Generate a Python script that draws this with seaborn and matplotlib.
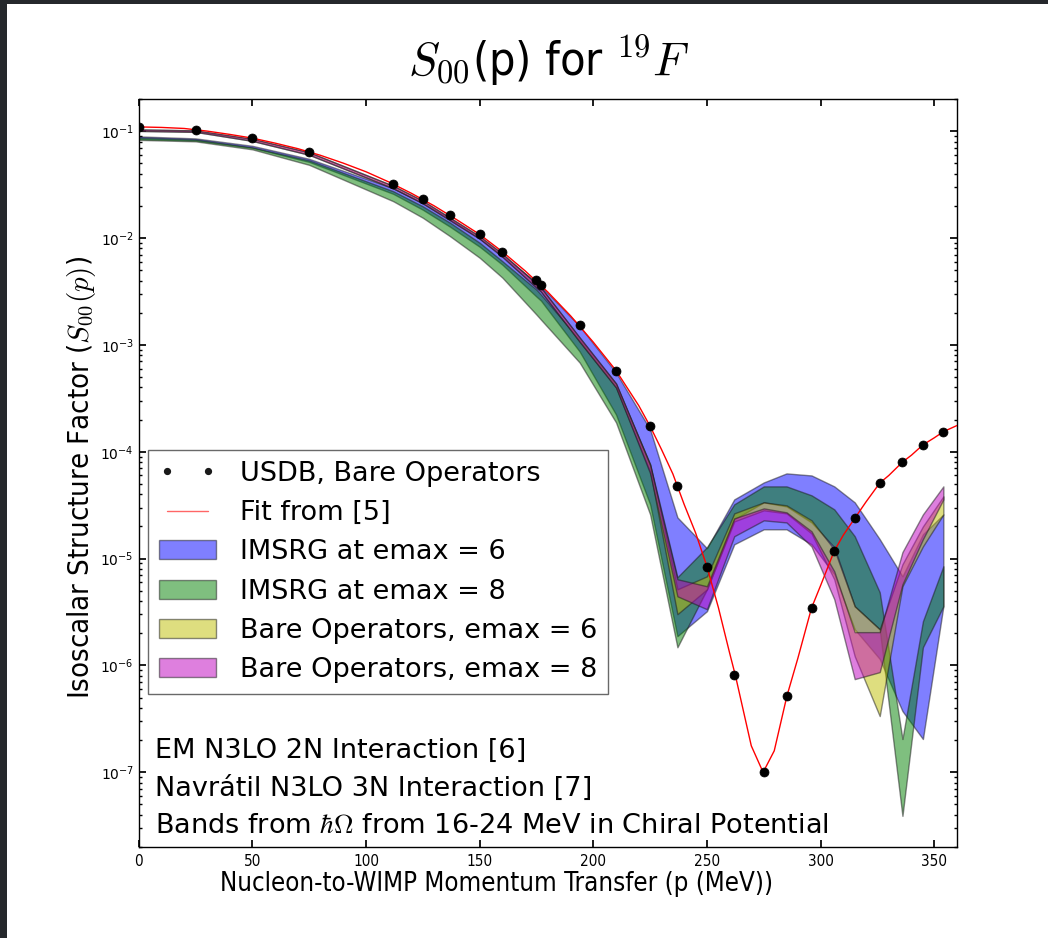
import numpy as np
import pandas as pd
import matplotlib
matplotlib.use("Agg")
import matplotlib.pyplot as plt
import seaborn as sns
from matplotlib.patches import Rectangle, Patch
from matplotlib.lines import Line2D

# ---------------- data ----------------
p_mev = [0, 25, 50, 75, 112, 125, 137, 150, 160, 175, 177, 194, 210, 225,
         237, 250, 262, 275, 285, 296, 306, 315, 326, 336, 345, 354]

s00_usdb = [1.10e-1, 1.035e-1, 8.61e-2, 6.40e-2, 3.20e-2, 2.31e-2, 1.625e-2,
            1.08e-2, 7.45e-3, 4.02e-3, 3.64e-3, 1.53e-3, 5.75e-4, 1.73e-4,
            4.81e-5, 8.41e-6, 8.07e-7, 1.01e-7, 5.20e-7, 3.45e-6, 1.18e-5,
            2.38e-5, 5.09e-5, 8.0e-5, 1.16e-4, 1.54e-4]

p_fit = [0, 10, 20, 30, 40, 50, 60, 70, 80, 90, 100, 110, 120, 130, 140, 150,
         160, 170, 180, 190, 200, 210, 220, 225, 230, 235, 240, 245, 250, 255,
         260, 262.5, 269.5, 274.7, 279.6, 285.2, 290, 296, 300, 306, 310, 315,
         320, 326, 330, 336, 340, 345, 350, 354, 360]
s00_fit = [0.1096, 0.1084, 0.106, 0.1002, 0.0933, 0.0861, 0.0773, 0.0686,
           0.0594, 0.0502, 0.0417, 0.0335, 0.0262, 0.0200, 0.0148, 0.0108,
           0.00745, 0.00493, 0.00312, 0.00187, 0.00106, 5.75e-4, 2.7e-4,
           1.73e-4, 1.05e-4, 6.2e-5, 3.2e-5, 1.74e-5, 8.41e-6, 3.5e-6, 1.3e-6,
           8.07e-7, 1.77e-7, 1.0e-7, 1.59e-7, 5.2e-7, 1.17e-6, 3.45e-6, 5.6e-6,
           1.18e-5, 1.66e-5, 2.38e-5, 3.4e-5, 5.09e-5, 6.0e-5, 8.0e-5, 9.3e-5,
           1.16e-4, 1.35e-4, 1.54e-4, 1.76e-4]

imsrg6_hi = [0.0894, 0.0856, 0.0729, 0.0551, 0.0292, 0.0214, 0.01515, 0.00996,
             0.00691, 0.00382, 0.00354, 0.00150, 5.51e-4, 1.62e-4, 2.43e-5,
             1.25e-5, 3.58e-5, 5.16e-5, 6.27e-5, 6.00e-5, 4.74e-5, 3.36e-5,
             1.52e-5, 6.83e-6, 1.69e-5, 2.59e-5]
imsrg6_lo = [0.0847, 0.0820, 0.0698, 0.0516, 0.0259, 0.0184, 0.01275, 0.00829,
             0.00563, 0.00283, 0.00259, 8.66e-4, 2.23e-4, 3.22e-5, 1.88e-6,
             3.22e-6, 1.36e-5, 1.88e-5, 1.88e-5, 1.36e-5, 7.13e-6, 2.18e-6,
             1.15e-6, 3.74e-7, 2.05e-7, 3.58e-6]

imsrg8_hi = [0.0875, 0.0838, 0.0706, 0.0534, 0.0274, 0.0198, 0.0139, 0.00904,
             0.00607, 0.00329, 0.00295, 0.00112, 4.26e-4, 7.61e-5, 6.69e-6,
             1.28e-5, 3.22e-5, 4.74e-5, 4.74e-5, 3.91e-5, 2.89e-5, 1.62e-5,
             4.84e-6, 2.05e-7, 2.59e-6, 8.47e-6]
imsrg8_lo = [0.0829, 0.0803, 0.0676, 0.0484, 0.0221, 0.01548, 0.01039, 0.00654,
             0.00426, 0.00192, 0.00172, 6.83e-4, 1.88e-4, 2.59e-5, 1.48e-6,
             5.16e-6, 2.33e-5, 3.36e-5, 3.08e-5, 2.18e-5, 1.28e-5, 3.58e-6,
             2.18e-6, 3.91e-8, 1.48e-6, 3.58e-6]

bare6_hi = [0.1039, 0.1017, 0.0847, 0.0634, 0.0308, 0.0223, 0.01548, 0.01039,
            0.00713, 0.00374, 0.00343, 0.00117, 4.35e-4, 7.61e-5, 5.16e-6,
            6.83e-6, 2.65e-5, 3.36e-5, 3.15e-5, 2.28e-5, 1.22e-5, 3.58e-6,
            2.18e-6, 8.85e-6, 2.00e-5, 3.82e-5]
bare6_lo = [0.1006, 0.0985, 0.0811, 0.0601, 0.0292, 0.0211, 0.01467, 0.00985,
            0.00669, 0.00343, 0.00315, 0.00107, 3.99e-4, 6.54e-5, 3.02e-6,
            5.16e-6, 2.23e-5, 2.83e-5, 2.65e-5, 1.72e-5, 6.41e-6, 1.22e-6,
            3.36e-7, 5.51e-6, 1.30e-5, 2.59e-5]

bare8_hi = [0.1039, 0.1017, 0.0847, 0.0634, 0.0308, 0.0223, 0.01548, 0.01039,
            0.00713, 0.00374, 0.00343, 0.00117, 4.35e-4, 7.45e-5, 6.41e-6,
            5.51e-6, 2.38e-5, 2.95e-5, 2.71e-5, 1.80e-5, 7.61e-6, 2.05e-6,
            2.05e-6, 1.15e-5, 2.59e-5, 4.74e-5]
bare8_lo = [0.1006, 0.0985, 0.0811, 0.0601, 0.0292, 0.0211, 0.01467, 0.00985,
            0.00669, 0.00343, 0.00315, 0.00107, 3.99e-4, 6.27e-5, 4.44e-6,
            3.36e-6, 1.62e-5, 2.28e-5, 2.18e-5, 1.30e-5, 4.17e-6, 7.45e-7,
            8.66e-7, 5.75e-6, 1.52e-5, 3.58e-5]

legend_labels = ["USDB, Bare Operators", "Fit from [5]", "IMSRG at emax = 6",
                 "IMSRG at emax = 8", "Bare Operators, emax = 6",
                 "Bare Operators, emax = 8"]
notes = ["EM N3LO 2N Interaction [6]", "Navrátil N3LO 3N Interaction [7]",
         r"Bands from $\hbar\Omega$ from 16-24 MeV in Chiral Potential"]
x_ticks = [0, 50, 100, 150, 200, 250, 300, 350]

# classic matplotlib single-letter colours
C_BLUE, C_GREEN, C_YELLOW, C_MAGENTA = (0, 0, 1), (0, 0.5, 0), (0.75, 0.75, 0), (0.75, 0, 0.75)

# ---------------- style ----------------
sns.set_theme(style="ticks")
plt.rcParams["font.family"] = ["DejaVu Sans"]
plt.rcParams["mathtext.fontset"] = "cm"
plt.rcParams.update({
    "xtick.direction": "in", "ytick.direction": "in",
    "xtick.top": True, "ytick.right": True,
    "xtick.major.size": 5, "ytick.major.size": 5,
    "xtick.minor.size": 2.5, "ytick.minor.size": 2.5,
    "axes.linewidth": 1.0, "axes.edgecolor": "black",
    "text.color": "black", "axes.labelcolor": "black",
    "xtick.color": "black", "ytick.color": "black",
})

W, H = 1048, 938
fig = plt.figure(figsize=(W / 100, H / 100), dpi=100, facecolor="white")
ax = fig.add_axes([138.7 / W, 1 - 847 / H, (957 - 138.7) / W, (847 - 99) / H])

bands = [(imsrg6_lo, imsrg6_hi, C_BLUE), (imsrg8_lo, imsrg8_hi, C_GREEN),
         (bare6_lo, bare6_hi, C_YELLOW), (bare8_lo, bare8_hi, C_MAGENTA)]
for lo, hi, c in bands:
    ax.fill_between(p_mev, lo, hi, facecolor=c, edgecolor="k", alpha=0.5,
                    linewidth=1.0, zorder=2)

df_fit = pd.DataFrame({"p": p_fit, "S00": s00_fit})
sns.lineplot(data=df_fit, x="p", y="S00", color="red", linewidth=1.0, ax=ax,
             zorder=3, legend=False)
df_usdb = pd.DataFrame({"p": p_mev, "S00": s00_usdb})
sns.scatterplot(data=df_usdb, x="p", y="S00", color="black", s=42,
                edgecolor="black", linewidth=0.5, ax=ax, zorder=4, legend=False)

ax.set_yscale("log")
ax.set_xlim(0, 360)
ax.set_ylim(2e-8, 0.2)
ax.set_xticks(x_ticks)
for lab in ax.get_xticklabels():
    lab.set_fontstretch("condensed")
ax.tick_params(axis="y", labelsize=10)
ax.tick_params(axis="x", labelsize=11, pad=5)

ax.set_xlabel("Nucleon-to-WIMP Momentum Transfer (p (MeV))", fontsize=18.5,
              fontstretch="condensed")
ax.xaxis.set_label_coords((497 - 138.7) / 818.3, -(871 - 847) / 748)
ax.set_ylabel(r"Isoscalar Structure Factor ($S_{00}(p)$)", fontsize=21,
              fontstretch="condensed")
ax.yaxis.set_label_coords(-(138.7 - 98) / 818.3, (847 - 477) / 748)
fig.text(549 / W, 1 - 61 / H, r"$S_{00}$(p) for $^{19}F$", ha="center",
         va="center", fontsize=33.5, fontstretch="condensed")

handles = [
    Line2D([], [], ls="none", marker="o", color="k", markersize=6),
    Line2D([], [], color="red", lw=1.0, alpha=0.6),
    Patch(facecolor=C_BLUE, edgecolor="k", alpha=0.5),
    Patch(facecolor=C_GREEN, edgecolor="k", alpha=0.5),
    Patch(facecolor=C_YELLOW, edgecolor="k", alpha=0.5),
    Patch(facecolor=C_MAGENTA, edgecolor="k", alpha=0.5),
]
leg = ax.legend(handles, legend_labels, loc="lower left",
                bbox_to_anchor=((148 - 138.7) / 818.3, (847 - 694) / 748),
                borderaxespad=0, numpoints=2, markerscale=0.7, fontsize=19.5,
                handlelength=2.1, handletextpad=0.9, labelspacing=0.49,
                borderpad=0.4, frameon=True, fancybox=False)
leg.get_frame().set_edgecolor("#444444")
leg.get_frame().set_linewidth(1.0)

for txt, yc in zip(notes, [751, 789, 826]):
    ax.text((155 - 138.7) / 818.3, (847 - yc) / 748, txt, transform=ax.transAxes,
            fontsize=19.5, va="center", ha="left")

# dark screenshot frame at left and top edges
fig.patches.append(Rectangle((0, 0), 7 / W, 1, transform=fig.transFigure,
                             facecolor="#25282c", edgecolor="none", zorder=10))
fig.patches.append(Rectangle((0, 1 - 4 / H), 1, 4 / H, transform=fig.transFigure,
                             facecolor="#25282c", edgecolor="none", zorder=10))

fig.savefig("out.png", dpi=100, facecolor="white")
